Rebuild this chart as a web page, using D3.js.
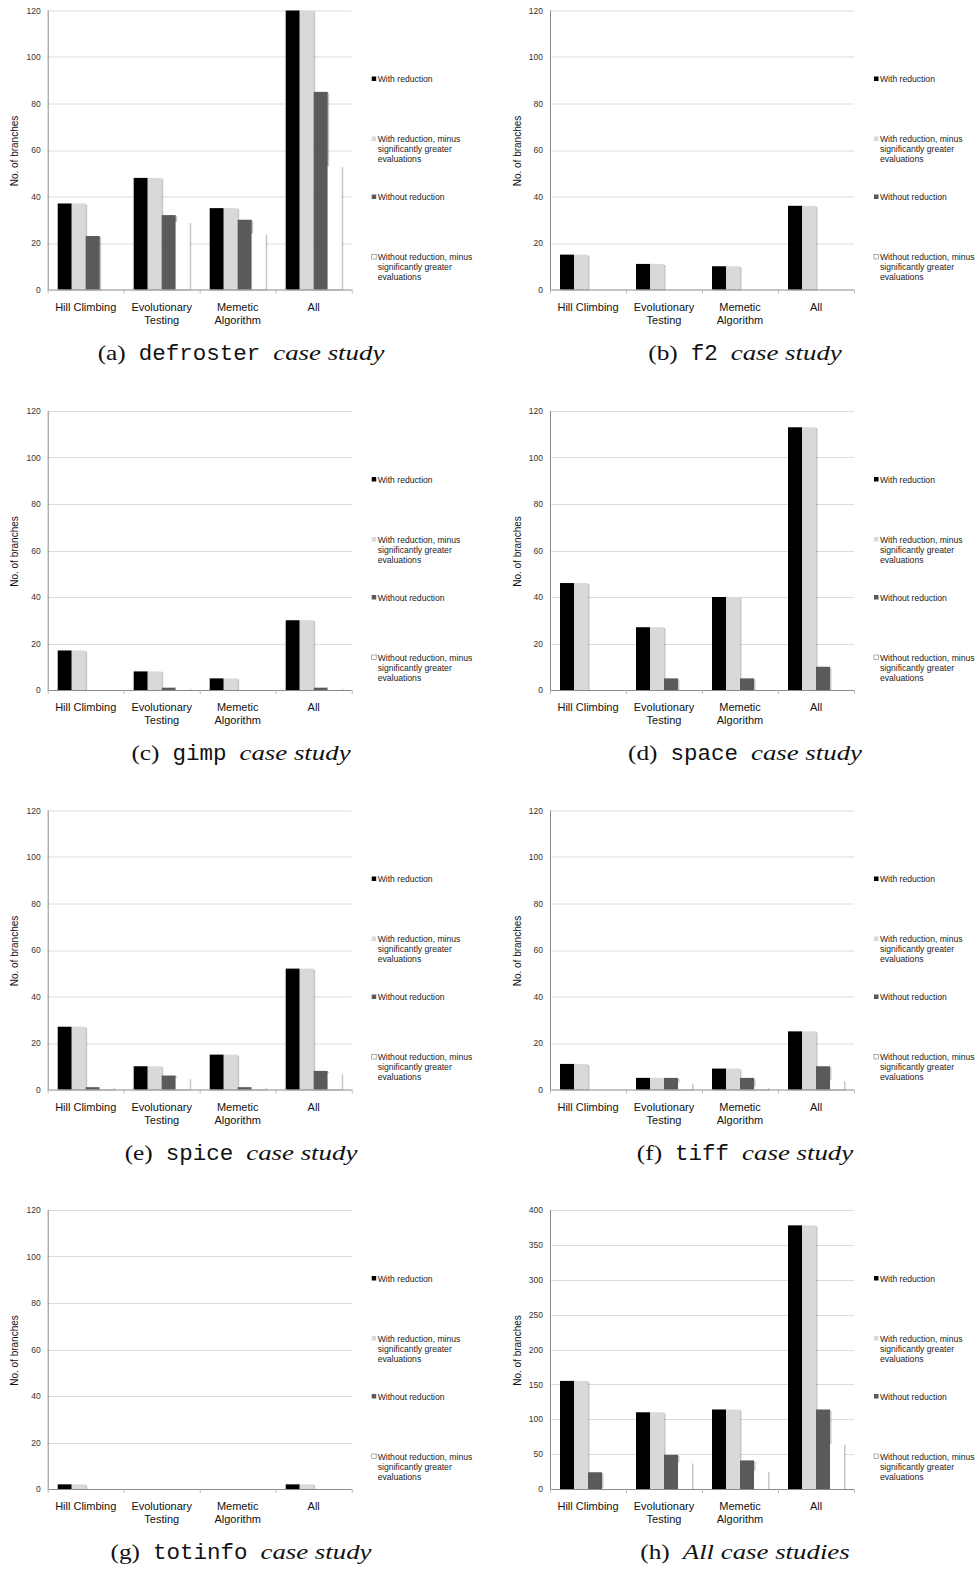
<!DOCTYPE html>
<html>
<head>
<meta charset="utf-8">
<script src="https://cdn.jsdelivr.net/npm/d3@7"></script>
<style>
  html, body { margin: 0; padding: 0; background: #fff; }
  svg { display: block; }
</style>
</head>
<body>
<svg id="fig" width="978" height="1569"></svg>
<script>
// Categories (search techniques) and their wrapped axis labels
const categories = ["Hill Climbing", "Evolutionary Testing", "Memetic Algorithm", "All"];
const categoryLines = [["Hill Climbing"], ["Evolutionary", "Testing"], ["Memetic", "Algorithm"], ["All"]];

// Series and legend text
const seriesKeys = ["withRed", "withRedMinus", "withoutRed", "withoutRedMinus"];
const seriesLegend = [
  ["With reduction"],
  ["With reduction, minus", "significantly greater", "evaluations"],
  ["Without reduction"],
  ["Without reduction, minus", "significantly greater", "evaluations"]
];
const seriesColors = ["#000000", "#d9d9d9", "#5a5a5a", "#ffffff"];

// Tick labels
const ticksSmall = [0, 20, 40, 60, 80, 100, 120];
const ticksAll = [0, 50, 100, 150, 200, 250, 300, 350, 400];

// Number of branches per case study: [HC, ET, MA, All]
const defrosterWith = [37, 48, 35, 120];
const defrosterWithMinus = [37, 48, 35, 120];
const defrosterWithout = [23, 32, 30, 85];
const defrosterWithoutMinus = [0, 29, 24, 53];

const f2With = [15, 11, 10, 36];
const f2WithMinus = [15, 11, 10, 36];
const f2Without = [0, 0, 0, 0];
const f2WithoutMinus = [0, 0, 0, 0];

const gimpWith = [17, 8, 5, 30];
const gimpWithMinus = [17, 8, 5, 30];
const gimpWithout = [0, 1, 0, 1];
const gimpWithoutMinus = [0, 1, 0, 1];

const spaceWith = [46, 27, 40, 113];
const spaceWithMinus = [46, 27, 40, 113];
const spaceWithout = [0, 5, 5, 10];
const spaceWithoutMinus = [0, 0, 0, 0];

const spiceWith = [27, 10, 15, 52];
const spiceWithMinus = [27, 10, 15, 52];
const spiceWithout = [1, 6, 1, 8];
const spiceWithoutMinus = [1, 5, 1, 7];

const tiffWith = [11, 5, 9, 25];
const tiffWithMinus = [11, 5, 9, 25];
const tiffWithout = [0, 5, 5, 10];
const tiffWithoutMinus = [0, 3, 1, 4];

const totinfoWith = [2, 0, 0, 2];
const totinfoWithMinus = [2, 0, 0, 2];
const totinfoWithout = [0, 0, 0, 0];
const totinfoWithoutMinus = [0, 0, 0, 0];

const allWith = [155, 110, 114, 378];
const allWithMinus = [155, 110, 114, 378];
const allWithout = [24, 49, 41, 114];
const allWithoutMinus = [1, 38, 26, 65];

// Panels of the figure
const panels = [
  { tag: "(a)", mono: "defroster", italic: "case study", col: 0, row: 0, series: [defrosterWith, defrosterWithMinus, defrosterWithout, defrosterWithoutMinus], ticks: ticksSmall },
  { tag: "(b)", mono: "f2", italic: "case study", col: 1, row: 0, series: [f2With, f2WithMinus, f2Without, f2WithoutMinus], ticks: ticksSmall },
  { tag: "(c)", mono: "gimp", italic: "case study", col: 0, row: 1, series: [gimpWith, gimpWithMinus, gimpWithout, gimpWithoutMinus], ticks: ticksSmall },
  { tag: "(d)", mono: "space", italic: "case study", col: 1, row: 1, series: [spaceWith, spaceWithMinus, spaceWithout, spaceWithoutMinus], ticks: ticksSmall },
  { tag: "(e)", mono: "spice", italic: "case study", col: 0, row: 2, series: [spiceWith, spiceWithMinus, spiceWithout, spiceWithoutMinus], ticks: ticksSmall },
  { tag: "(f)", mono: "tiff", italic: "case study", col: 1, row: 2, series: [tiffWith, tiffWithMinus, tiffWithout, tiffWithoutMinus], ticks: ticksSmall },
  { tag: "(g)", mono: "totinfo", italic: "case study", col: 0, row: 3, series: [totinfoWith, totinfoWithMinus, totinfoWithout, totinfoWithoutMinus], ticks: ticksSmall },
  { tag: "(h)", mono: null, italic: "All case studies", col: 1, row: 3, series: [allWith, allWithMinus, allWithout, allWithoutMinus], ticks: ticksAll }
];

// Layout
const colAxisX = [47.7, 550];
const rowTop = [10.5, 411, 810.5, 1210];
const plotW = 304;
const plotH = 279;
const captionCenterX = [241, 745];

const sansFont = "'Liberation Sans', Arial, Helvetica, sans-serif";
const serifFont = "'Liberation Serif', 'Times New Roman', serif";
const monoFont = "'Liberation Mono', 'DejaVu Sans Mono', monospace";

const svg = d3.select("#fig");
svg.append("rect").attr("width", 978).attr("height", 1569).attr("fill", "#fff");

panels.forEach(p => {
  const x0 = colAxisX[p.col];
  const y0 = rowTop[p.row];
  const g = svg.append("g").attr("transform", `translate(${x0},${y0})`);

  const yMax = p.ticks[p.ticks.length - 1];
  const y = d3.scaleLinear().domain([0, yMax]).range([plotH, 0]);
  const x = d3.scaleBand().domain(categories).range([0, plotW]);
  const xs = d3.scaleBand().domain(seriesKeys).range([0, x.bandwidth()]).paddingOuter(0.714);

  // Gridlines
  g.append("g").selectAll("line").data(p.ticks.filter(t => t > 0)).join("line")
    .attr("x1", 0).attr("x2", plotW)
    .attr("y1", d => Math.round(y(d)) + 0.5).attr("y2", d => Math.round(y(d)) + 0.5)
    .attr("stroke", "#dcdcdc").attr("stroke-width", 1);

  // Y axis tick labels
  const yAxis = d3.axisLeft(y).tickValues(p.ticks).tickSize(0).tickPadding(7);
  const ya = g.append("g").call(yAxis);
  ya.select(".domain").remove();
  ya.selectAll("text").attr("font-family", sansFont).attr("font-size", "8.5px").attr("fill", "#333");

  // Bars data
  const bars = [];
  categories.forEach((c, ci) => {
    seriesKeys.forEach((k, si) => {
      const v = p.series[si][ci];
      if (v > 0) bars.push({ c, k, si, v });
    });
  });

  // Soft shadows behind the bars
  g.append("g").selectAll("rect").data(bars).join("rect")
    .attr("x", d => x(d.c) + xs(d.k) + 1.5)
    .attr("y", d => y(d.v) + 1)
    .attr("width", xs.bandwidth())
    .attr("height", d => plotH - y(d.v))
    .attr("fill", "#000").attr("opacity", 0.22);

  // Bars
  g.append("g").selectAll("rect").data(bars).join("rect")
    .attr("x", d => x(d.c) + xs(d.k))
    .attr("y", d => y(d.v))
    .attr("width", xs.bandwidth())
    .attr("height", d => plotH - y(d.v))
    .attr("fill", d => seriesColors[d.si]);

  // Axis lines
  g.append("line").attr("x1", 0.5).attr("x2", 0.5).attr("y1", 0).attr("y2", plotH + 0.5)
    .attr("stroke", "#8a8a8a").attr("stroke-width", 1);
  g.append("line").attr("x1", 0).attr("x2", plotW).attr("y1", plotH + 0.5).attr("y2", plotH + 0.5)
    .attr("stroke", "#8a8a8a").attr("stroke-width", 1);

  // Category separators on the x axis
  const seps = categories.map(c => x(c)).concat([plotW]);
  g.append("g").selectAll("line").data(seps).join("line")
    .attr("x1", d => Math.round(d) + 0.5).attr("x2", d => Math.round(d) + 0.5)
    .attr("y1", plotH).attr("y2", plotH + 4)
    .attr("stroke", "#bbb").attr("stroke-width", 1);

  // Category labels
  const cl = g.append("g").selectAll("text").data(categories).join("text")
    .attr("x", d => x(d) + x.bandwidth() / 2)
    .attr("y", plotH + 21)
    .attr("text-anchor", "middle")
    .attr("font-family", sansFont).attr("font-size", "11px").attr("fill", "#111");
  cl.selectAll("tspan").data((d, i) => categoryLines[i]).join("tspan")
    .attr("x", function () { return d3.select(this.parentNode).attr("x"); })
    .attr("dy", (d, i) => i === 0 ? 0 : 13.3)
    .text(d => d);

  // Y axis title
  g.append("text")
    .attr("transform", `translate(${-33},${plotH / 2 + 1}) rotate(-90)`)
    .attr("text-anchor", "middle").attr("dy", "0.35em")
    .attr("font-family", sansFont).attr("font-size", "10px").attr("fill", "#111")
    .text("No. of branches");

  // Legend
  const legendTop = [68.5, 128.5, 186.5, 246.5];
  const lg = g.append("g").attr("transform", `translate(${323.5},0)`);
  seriesLegend.forEach((lines, si) => {
    const ly = legendTop[si];
    lg.append("rect")
      .attr("x", 0.5).attr("y", ly - 2.5).attr("width", 4.5).attr("height", 4.5)
      .attr("fill", seriesColors[si])
      .attr("stroke", si === 3 ? "#777" : "none").attr("stroke-width", 0.6);
    const t = lg.append("text").attr("x", 6.5).attr("y", ly)
      .attr("font-family", sansFont).attr("font-size", "8.6px").attr("fill", "#222")
      .attr("dy", "0.35em");
    t.selectAll("tspan").data(lines).join("tspan")
      .attr("x", 6.5).attr("dy", (d, i) => i === 0 ? "0.35em" : 10)
      .text(d => d);
    t.attr("dy", null);
  });

  // Caption below the panel
  const cap = svg.append("g");
  const baseY = y0 + 349;
  const parts = [];
  parts.push({ text: p.tag, family: serifFont, style: "normal", size: 22, k: 1.15 });
  if (p.mono) parts.push({ text: p.mono, family: monoFont, style: "normal", size: 22.5, k: 1.0 });
  parts.push({ text: p.italic, family: serifFont, style: "italic", size: 22, k: 1.22 });
  const gap = 13;
  const nodes = parts.map(pt => {
    const t = cap.append("text").attr("y", baseY)
      .attr("font-family", pt.family).attr("font-style", pt.style)
      .attr("font-size", pt.size + "px").attr("fill", "#111")
      .text(pt.text);
    const w = t.node().getComputedTextLength() * pt.k;
    t.attr("textLength", w).attr("lengthAdjust", "spacingAndGlyphs");
    return { t, w };
  });
  const total = d3.sum(nodes, n => n.w) + gap * (nodes.length - 1);
  let cx = captionCenterX[p.col] - total / 2;
  nodes.forEach(n => { n.t.attr("x", cx); cx += n.w + gap; });
});
</script>
</body>
</html>
